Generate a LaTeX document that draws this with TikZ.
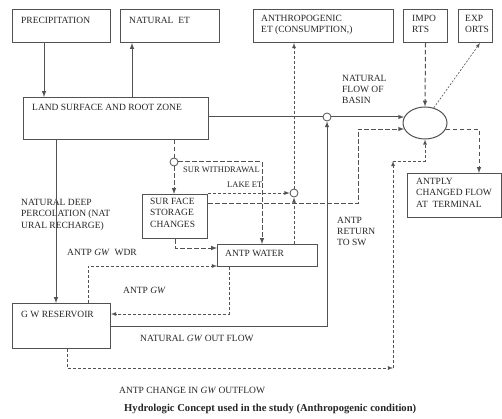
\documentclass[tikz,border=0pt]{standalone}
\usepackage{fontspec}
\setmainfont{Liberation Serif}
\usetikzlibrary{calc,arrows,shapes.geometric}
\definecolor{ln}{gray}{0.32}
\definecolor{tc}{gray}{0.15}

\begin{document}
\begin{tikzpicture}[x=1pt,y=-1pt,>=latex,
    blk/.style={draw=ln,line width=1pt,inner sep=0pt,anchor=north west},
    jn/.style={circle,draw=ln,line width=0.8pt,fill=white,inner sep=0pt,minimum size=8pt},
    flow/.style={draw=ln,line width=1pt},
    bigdash/.style={flow,dash pattern=on 4.5pt off 2.5pt},
    thindash/.style={draw=ln,line width=0.8pt,dash pattern=on 3pt off 2pt},
    dotline/.style={draw=ln,line width=0.6pt,dash pattern=on 2pt off 1.5pt},
    tx/.style={inner sep=0pt,anchor=north west,align=left,text=tc,font=\fontsize{9.5}{11.5}\selectfont},
    sm/.style={tx,font=\fontsize{8.5}{10}\selectfont}]
\useasboundingbox[fill=white] (0,0) rectangle (502,419);
% boxes
\node[blk,minimum width=98pt,minimum height=33pt] (prec) at (12,9) {};
\node[blk,minimum width=99pt,minimum height=33pt] (net) at (120,9) {};
\node[blk,minimum width=140pt,minimum height=33pt] (aet) at (253,9) {};
\node[blk,minimum width=44pt,minimum height=33pt] (imp) at (403,9) {};
\node[blk,minimum width=34pt,minimum height=33pt] (exp) at (458,9) {};
\node[blk,minimum width=185pt,minimum height=42pt] (land) at (23,97) {};
\node[blk,minimum width=65pt,minimum height=44pt] (sto) at (142,194) {};
\node[blk,minimum width=100pt,minimum height=22pt] (aw) at (217,244) {};
\node[blk,minimum width=98pt,minimum height=45pt] (gw) at (12,303) {};
\node[blk,minimum width=94pt,minimum height=44pt] (term) at (407,173) {};
\node[ellipse,draw=ln,line width=1pt,inner sep=0pt,minimum width=44pt,minimum height=32pt] (basin) at (425,123) {};
\node[jn] (j1) at (327,117) {};
\node[jn] (j2) at (174,162) {};
\node[jn] (j3) at (294,193) {};
\coordinate (gwc) at (393,368);
\coordinate (gwt) at (393,161);

% texts
\node[tx] at (21,17) {PRECIPITATION};
\node[tx] at (129,17) {NATURAL\ \ ET};
\node[tx] at (261,15) {ANTHROPOGENIC\\ ET (CONSUMPTION,)};
\node[tx] at (412,15) {IMPO\\RTS};
\node[tx] at (465,15) {EXP\\ORTS};
\node[tx,font=\fontsize{9.5}{10.8}\selectfont] at (342,75) {NATURAL\\FLOW OF\\BASIN};
\node[tx] at (32,104) {LAND SURFACE AND ROOT ZONE};
\node[sm] at (183,167) {SUR WITHDRAWAL};
\node[sm] at (227,182) {LAKE ET};
\node[tx] at (150,198) {SUR FACE\\STORAGE\\CHANGES};
\node[tx] at (21,199) {NATURAL DEEP\\PERCOLATION (NAT\\URAL RECHARGE)};
\node[tx] at (67,249) {ANTP \textit{GW}\ \ WDR};
\node[tx] at (225,250) {ANTP WATER};
\node[tx,font=\fontsize{9.5}{11}\selectfont] at (337,217) {ANTP\\RETURN\\TO SW};
\node[tx] at (416,178) {ANTPLY\\CHANGED FLOW\\AT\ \ TERMINAL};
\node[tx] at (123,287) {ANTP \textit{GW}};
\node[tx] at (21,311) {G W RESERVOIR};
\node[tx] at (140,335) {NATURAL \textit{GW} OUT FLOW};
\node[tx] at (119,387) {ANTP CHANGE IN \textit{GW} OUTFLOW};
\node[tx,font=\fontsize{10.6}{12}\selectfont\bfseries] at (124,404) {Hydrologic Concept used in the study (Anthropogenic condition)};

% natural flows
\draw[flow,->] ([xshift=32pt]prec.south west) -- ([xshift=32pt]prec.south west |- land.north);
\draw[flow,->] ([xshift=12pt]net.south west |- land.north) -- ([xshift=12pt]net.south west);
\draw[flow] (land.east |- j1) -- (j1.west);
\draw[flow,->] (j1.east) -- (j1.east -| basin.164);
\draw[flow,->] (gw.east) -| (j1.south);
\draw[flow,->] ([xshift=33pt]land.south west) -- ([xshift=33pt]land.south west |- gw.north);

% anthropogenic flows
\draw[bigdash] (land.south -| j2) -- (j2.north);
\draw[bigdash,->] (j2.south) -- (j2.south |- sto.north);
\draw[bigdash,->] (j2.east) -| ([xshift=45pt]aw.north west);
\draw[thindash,->] (sto.north east |- j3) -- (j3.west);
\draw[thindash,->] (aw.north -| j3) -- (j3.south);
\draw[thindash,->] (j3.north) -- (j3.north |- aet.south);
\draw[bigdash,->] ([yshift=-10pt]sto.north east) -- ++(150,0) |- (basin.196);
\draw[bigdash,->] (sto.south) |- ([yshift=-4pt]aw.north west);
\draw[thindash,->] ([xshift=76pt]gw.north west) |- ([yshift=1pt]aw.south west);
\draw[thindash,->] ([xshift=12pt]aw.south west) |- ([yshift=-11pt]gw.north east);
\draw[thindash,->] ([xshift=55pt]gw.south west) |- (gwc);
\draw[thindash,->] (gwc) -- (gwt);
\draw[thindash,->] (gwt) -| (basin.south);
\draw[bigdash,->] (imp.south) -- (basin.north);
\draw[dotline,->] (basin.60) -- ([xshift=22pt]exp.south west);
\draw[bigdash,->] (basin.-16) -| ([xshift=72pt]term.north west);
\end{tikzpicture}
\end{document}
